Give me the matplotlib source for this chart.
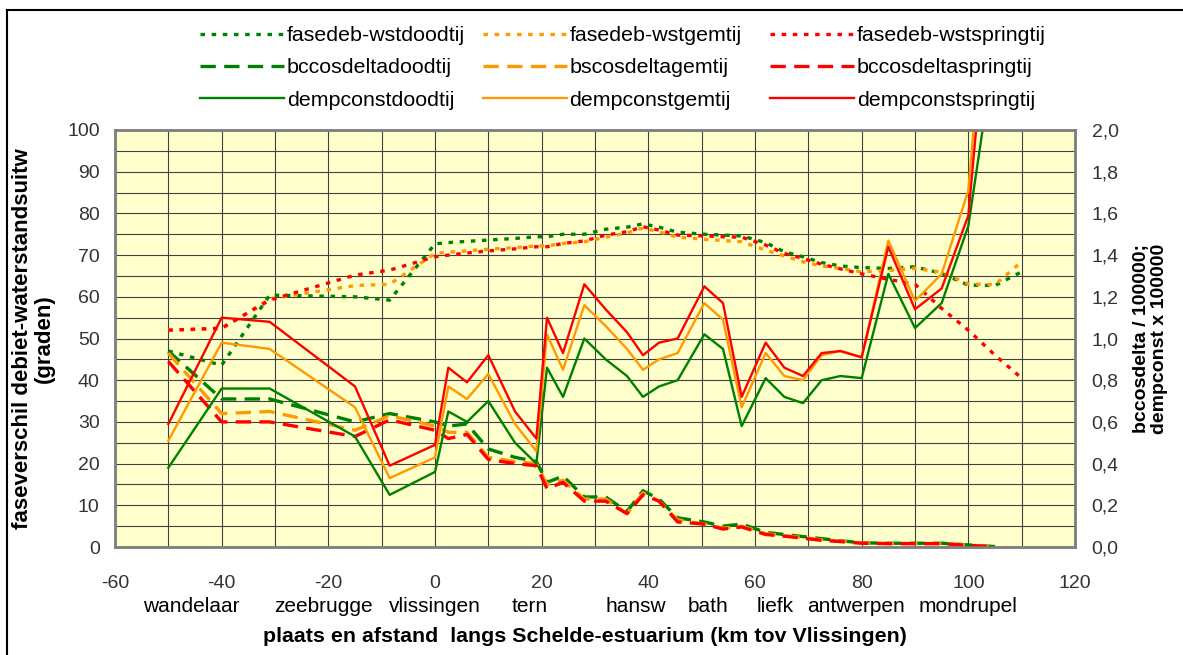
import matplotlib
matplotlib.use("Agg")
import matplotlib.pyplot as plt
from matplotlib.lines import Line2D
from matplotlib.ticker import FixedLocator, MultipleLocator

plt.rcParams['font.family'] = ['Liberation Sans', 'DejaVu Sans']
plt.rcParams['axes.unicode_minus'] = False

# ---- data ----
km = [-50, -40, -31, -15, -8.5, 0, 2.5, 6, 10, 15, 19, 21, 24, 28, 32, 36, 39, 42,
      45.5, 50.5, 54, 57.5, 62, 65.5, 69, 72.5, 76, 80, 85, 90, 95, 100, 105]
km_fase = km + [110]

fase_dood = [47, 43.6, 60.4, 60.0, 59.2, 72.7, 73.0, 73.3, 73.6, 74.0, 74.4, 74.4, 75.0, 75.0,
             76.2, 76.7, 77.5, 76.7, 75.5, 75.0, 74.8, 74.6, 73.0, 70.8, 69.6, 68.2, 67.4,
             67.0, 66.8, 67.2, 65.6, 62.8, 62.7, 66.0]
fase_gem = [52.0, 52.3, 59.5, 62.7, 63.0, 70.4, 70.7, 71.0, 71.4, 71.8, 72.2, 72.2, 72.8, 73.2,
            74.3, 75.3, 76.5, 75.6, 74.3, 73.8, 73.5, 73.2, 71.2, 69.8, 68.4, 67.4, 66.8,
            66.0, 66.3, 66.8, 65.9, 63.1, 62.9, 68.4]
fase_spring = [52.0, 52.5, 59.2, 65.2, 66.4, 69.6, 70.0, 70.5, 71.0, 71.5, 72.0, 72.0, 72.8, 73.4,
               74.8, 75.6, 76.8, 76.0, 74.8, 74.6, 74.4, 74.3, 72.4, 70.4, 69.2, 67.8, 66.7,
               65.5, 64.2, 63.0, 57.2, 52.0, 46.0, 40.5]

bc_dood = [0.94, 0.71, 0.71, 0.60, 0.64, 0.60, 0.58, 0.59, 0.47, 0.43, 0.41, 0.31, 0.34, 0.24,
           0.24, 0.17, 0.27, 0.23, 0.14, 0.12, 0.10, 0.11, 0.07, 0.06, 0.05, 0.04, 0.03, 0.02,
           0.018, 0.018, 0.018, 0.01, 0.002]
bc_gem = [0.93, 0.64, 0.65, 0.56, 0.63, 0.58, 0.55, 0.55, 0.43, 0.41, 0.40, 0.30, 0.32, 0.23,
          0.23, 0.16, 0.26, 0.22, 0.13, 0.11, 0.09, 0.10, 0.064, 0.054, 0.046, 0.034, 0.028,
          0.019, 0.017, 0.017, 0.017, 0.009, 0.001]
bc_spring = [0.89, 0.60, 0.60, 0.53, 0.61, 0.56, 0.52, 0.54, 0.42, 0.40, 0.39, 0.28, 0.31, 0.22,
             0.22, 0.16, 0.25, 0.22, 0.12, 0.11, 0.086, 0.096, 0.06, 0.052, 0.042, 0.032, 0.026,
             0.018, 0.016, 0.016, 0.016, 0.008, 0.0]

demp_dood = [0.38, 0.76, 0.76, 0.53, 0.25, 0.36, 0.65, 0.60, 0.70, 0.50, 0.40, 0.86, 0.72, 1.00,
             0.90, 0.82, 0.72, 0.77, 0.80, 1.02, 0.95, 0.58, 0.81, 0.72, 0.69, 0.80, 0.82, 0.81,
             1.31, 1.05, 1.17, 1.54, 2.4]
demp_gem = [0.51, 0.98, 0.95, 0.67, 0.33, 0.43, 0.77, 0.71, 0.83, 0.59, 0.46, 1.02, 0.85, 1.16,
            1.06, 0.95, 0.85, 0.90, 0.93, 1.17, 1.09, 0.67, 0.93, 0.82, 0.80, 0.92, 0.94, 0.91,
            1.47, 1.18, 1.31, 1.71, 3.2]
demp_spring = [0.59, 1.10, 1.08, 0.77, 0.39, 0.49, 0.86, 0.79, 0.92, 0.65, 0.52, 1.10, 0.93, 1.26,
               1.14, 1.03, 0.92, 0.98, 1.00, 1.25, 1.17, 0.72, 0.98, 0.86, 0.82, 0.93, 0.94, 0.91,
               1.44, 1.14, 1.24, 1.59, 3.0]

x_ticks = [-60, -40, -20, 0, 20, 40, 60, 80, 100, 120]
left_ticks = [0, 10, 20, 30, 40, 50, 60, 70, 80, 90, 100]
right_ticks = [0.0, 0.2, 0.4, 0.6, 0.8, 1.0, 1.2, 1.4, 1.6, 1.8, 2.0]
right_labels = ['0,0', '0,2', '0,4', '0,6', '0,8', '1,0', '1,2', '1,4', '1,6', '1,8', '2,0']

places = ['wandelaar', 'zeebrugge', 'vlissingen', 'tern', 'hansw', 'bath', 'liefk',
          'antwerpen', 'mondrupel']
place_km = [-45.7, -21.0, 0.0, 17.8, 37.7, 51.2, 63.7, 79.0, 100.0]

GREEN = '#008000'
ORANGE = '#FF9900'
RED = '#FF0000'

W, H = 1183, 655
fig = plt.figure(figsize=(W / 100, H / 100), dpi=100)
L, R, T, B = 115, 1075, 130, 547
ax = fig.add_axes([L / W, 1 - B / H, (R - L) / W, (B - T) / H])
ax.set_facecolor('#FFFFCC')
ax2 = ax.twinx()

ax.set_xlim(-60, 120)
ax.set_ylim(0, 100)
ax2.set_ylim(0, 2.0)

ax.xaxis.set_major_locator(FixedLocator(x_ticks))
ax.xaxis.set_minor_locator(MultipleLocator(10))
ax.yaxis.set_major_locator(FixedLocator(left_ticks))
ax.yaxis.set_minor_locator(MultipleLocator(5))
ax.grid(True, which='both', color='#404040', linewidth=0.8)
ax.set_axisbelow(True)
ax.tick_params(which='both', length=0)
ax.tick_params(axis='x', labelsize=14, labelcolor='#333333', pad=20)
ax.tick_params(axis='y', labelsize=14, labelcolor='#333333', pad=11)
ax2.set_yticks(right_ticks)
ax2.set_yticklabels(right_labels)
ax2.tick_params(length=0, labelsize=14, labelcolor='#333333', pad=12)

for a in (ax, ax2):
    for s in a.spines.values():
        s.set_color('#808080')
        s.set_linewidth(1.8)

lw_d = 2.4
dot = (1.35, 2.0)
dash = (4.6, 2.5)
ax.plot(km_fase, fase_dood, color=GREEN, lw=lw_d, dashes=dot, label='fasedeb-wstdoodtij')
ax.plot(km_fase, fase_gem, color=ORANGE, lw=lw_d, dashes=dot, label='fasedeb-wstgemtij')
ax.plot(km_fase, fase_spring, color=RED, lw=lw_d, dashes=dot, label='fasedeb-wstspringtij')

ax2.plot(km, bc_dood, color=GREEN, lw=lw_d, dashes=dash, label='bccosdeltadoodtij')
ax2.plot(km, bc_gem, color=ORANGE, lw=lw_d, dashes=dash, label='bscosdeltagemtij')
ax2.plot(km, bc_spring, color=RED, lw=lw_d, dashes=dash, label='bccosdeltaspringtij')

ax2.plot(km, demp_dood, color=GREEN, lw=1.7, label='dempconstdoodtij')
ax2.plot(km, demp_gem, color=ORANGE, lw=1.7, label='dempconstgemtij')
ax2.plot(km, demp_spring, color=RED, lw=1.7, label='dempconstspringtij')

ax.set_ylabel('faseverschil debiet-waterstandsuitw\n(graden)', fontsize=16,
              fontweight='bold', linespacing=1.05)
ax.yaxis.set_label_coords((55 - L) / (R - L), 0.5)
ax2.set_ylabel('bccosdelta / 100000;\ndempconst x 100000', fontsize=14,
               fontweight='bold', rotation=90, linespacing=1.1)
ax2.yaxis.set_label_coords((1133 - L) / (R - L), 0.5)

for name, k in zip(places, place_km):
    ax.text(k, -(607 - B) / (B - T) * 100, name, ha='center', va='center', fontsize=15,
            clip_on=False)
fig.text(585 / W, 1 - 637 / H, 'plaats en afstand  langs Schelde-estuarium (km tov Vlissingen)',
         ha='center', va='center', fontsize=15.4, fontweight='bold')

# legend in three columns
h1, l1 = ax.get_legend_handles_labels()
h2, l2 = ax2.get_legend_handles_labels()
handles = h1 + h2
labels = l1 + l2
cols = [[0, 3, 6], [1, 4, 7], [2, 5, 8]]
col_x = [200, 483, 770]
for cx, idx in zip(col_x, cols):
    fig.legend([handles[i] for i in idx], [labels[i] for i in idx],
               loc='upper left', bbox_to_anchor=(cx / W, 1 - 26 / H),
               frameon=False, fontsize=15.4, handlelength=3.95, handletextpad=0.1,
               labelspacing=0.63, borderpad=0, borderaxespad=0)

# outer frame
fig.add_artist(Line2D([7 / W, 7 / W], [0, 1 - 10 / H], transform=fig.transFigure,
                      color='black', lw=1.5))
fig.add_artist(Line2D([7 / W, 1], [1 - 10 / H, 1 - 10 / H], transform=fig.transFigure,
                      color='black', lw=1.5))

fig.savefig('out.png', dpi=100, facecolor='white')
